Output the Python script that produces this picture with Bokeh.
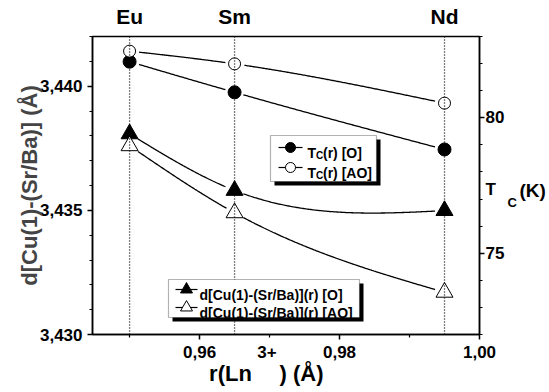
import numpy as np
from bokeh.plotting import figure
from bokeh.models import (Range1d, LinearAxis, FixedTicker, CustomJSTickFormatter,
                          Span, Label, BoxAnnotation)
from bokeh.embed import file_html
from bokeh.resources import INLINE

# ---------------- data ----------------
ions = ["Eu", "Sm", "Nd"]
r_ln = [0.950, 0.965, 0.995]                 # r(Ln3+) (Å)
tc_O = [82.07, 80.94, 78.83]                 # Tc(r) [O]  (K)
tc_AO = [82.46, 81.99, 80.54]                # Tc(r) [AO] (K)
d_O = [3.43808, 3.43580, 3.43499]            # d[Cu(1)-(Sr/Ba)](r) [O]  (Å)
d_AO = [3.43760, 3.43490, 3.43170]           # d[Cu(1)-(Sr/Ba)](r) [AO] (Å)

x_major = [0.96, 0.98, 1.00]
x_minor = [0.95, 0.97, 0.99]
yl_major = [3.430, 3.435, 3.440]
yl_minor = [3.430, 3.431, 3.432, 3.433, 3.434, 3.435, 3.436, 3.437, 3.438, 3.439, 3.440, 3.441, 3.442]
yr_major = [75, 80]
yr_minor = [72, 73, 74, 75, 76, 77, 78, 79, 80, 81, 82, 83]

FONT = "Liberation Sans"
W, H = 549, 392
FL, FR, FT, FB = 92, 479, 36, 334        # frame edges in canvas px
XR = (0.9447, 1.0)
YL = (3.430, 3.442)
YR = (72.0, 83.0)

p = figure(width=W, height=H, output_backend="svg", toolbar_location=None,
           x_range=Range1d(*XR), y_range=Range1d(*YL),
           min_border_left=FL, min_border_right=W - FR,
           min_border_top=FT, min_border_bottom=H - FB,
           x_axis_location=None, y_axis_location=None)
p.extra_y_ranges = {"tc": Range1d(*YR)}
p.grid.visible = False
p.outline_line_color = "black"
p.outline_line_width = 1.5
p.background_fill_color = "white"
p.border_fill_color = "white"


# ---------------- helpers: canvas pixels -> data / frame units ----------------
def dx(cx):
    return XR[0] + (cx - FL) / (FR - FL) * (XR[1] - XR[0])


def dy(cy, rng):
    return rng[0] + (FB - cy) / (FB - FT) * (rng[1] - rng[0])


def fx(cx):
    return cx - FL


def fy(cy):
    return FB - cy


def style_axis(ax, fs="17px"):
    ax.axis_line_color = "black"
    ax.axis_line_width = 1.5
    ax.major_tick_line_color = "black"
    ax.minor_tick_line_color = "black"
    ax.major_tick_line_width = 1.5
    ax.minor_tick_line_width = 1.2
    ax.major_tick_in = 0
    ax.major_tick_out = 5
    ax.minor_tick_in = 0
    ax.minor_tick_out = 3
    ax.major_label_text_font = FONT
    ax.major_label_text_font_style = "bold"
    ax.major_label_text_font_size = fs
    ax.major_label_text_color = "black"


def text_axis(ax, fs, standoff):
    """axis used only to carry text (no line, no ticks)"""
    style_axis(ax, fs)
    ax.axis_line_color = None
    ax.major_tick_line_color = None
    ax.minor_tick_line_color = None
    ax.major_tick_out = 0
    ax.minor_tick_out = 0
    ax.major_label_standoff = standoff


def tick_axis(ax):
    """axis carrying only the tick marks"""
    style_axis(ax, "1px")
    ax.major_label_standoff = 0


blank = CustomJSTickFormatter(code="return '';")

# ---- bottom: ticks, then tick labels (+ superscript), then title ----
x_sup = dx(266.5)                 # position of the "3+" superscript
x_t1, x_t2 = dx(230), dx(301)     # positions of "r(Ln" and ") (Å)"

xb0 = LinearAxis(ticker=FixedTicker(ticks=x_major, minor_ticks=x_minor), formatter=blank)
tick_axis(xb0)
p.add_layout(xb0, "below")

xb1 = LinearAxis(ticker=FixedTicker(ticks=x_major + [x_sup], minor_ticks=[]),
                 formatter=CustomJSTickFormatter(code="return tick.toFixed(2).replace('.', ',');"),
                 major_label_overrides={x_sup: "3+"})
text_axis(xb1, "17px", 6)
p.add_layout(xb1, "below")

xb2 = LinearAxis(ticker=FixedTicker(ticks=[x_t1, x_t2], minor_ticks=[]),
                 major_label_overrides={x_t1: "r(Ln", x_t2: ") (Å)"})
text_axis(xb2, "22px", 0)
p.add_layout(xb2, "below")

# ---- left axis ----
yl = LinearAxis(ticker=FixedTicker(ticks=yl_major, minor_ticks=yl_minor),
                formatter=CustomJSTickFormatter(code="return tick.toFixed(3).replace('.', ',');"),
                axis_label="d[Cu(1)-(Sr/Ba)] (Å)")
style_axis(yl)
yl.major_label_standoff = 5
yl.axis_label_text_font = FONT
yl.axis_label_text_font_style = "bold"
yl.axis_label_text_font_size = "22px"
yl.axis_label_standoff = -5
p.add_layout(yl, "left")

# ---- right: ticks, then labels (+ "T"), then subscript "C", then "(K)" ----
y_T = dy(189, YR)
y_C = dy(201.5, YR)
y_K = dy(190, YR)

yr0 = LinearAxis(y_range_name="tc", ticker=FixedTicker(ticks=yr_major, minor_ticks=yr_minor), formatter=blank)
tick_axis(yr0)
p.add_layout(yr0, "right")

yr1 = LinearAxis(y_range_name="tc", ticker=FixedTicker(ticks=yr_major + [y_T], minor_ticks=[]),
                 formatter=CustomJSTickFormatter(code="return tick.toFixed(0);"),
                 major_label_overrides={y_T: "T"})
text_axis(yr1, "17px", 1)
p.add_layout(yr1, "right")

yr2 = LinearAxis(y_range_name="tc", ticker=FixedTicker(ticks=[y_C], minor_ticks=[]),
                 major_label_overrides={y_C: "C"})
text_axis(yr2, "13px", 0)
p.add_layout(yr2, "right")

yr3 = LinearAxis(y_range_name="tc", ticker=FixedTicker(ticks=[y_K], minor_ticks=[]),
                 major_label_overrides={y_K: "(K)"})
text_axis(yr3, "19px", 0)
p.add_layout(yr3, "right")

# ---- top: ion names ----
xt = LinearAxis(ticker=FixedTicker(ticks=r_ln, minor_ticks=[]),
                major_label_overrides={v: n for v, n in zip(r_ln, ions)})
text_axis(xt, "21px", 9)
p.add_layout(xt, "above")

# vertical dotted guides at each ion
for xv in r_ln:
    p.add_layout(Span(location=xv, dimension="height", line_color="black",
                      line_dash="1 2", line_width=1.3))


# ------------- smooth connecting curves (natural cubic spline) -------------
def spline(xs, ys, n=300):
    xs = np.asarray(xs, float); ys = np.asarray(ys, float)
    k = len(xs); h = np.diff(xs)
    A = np.zeros((k, k)); b = np.zeros(k)
    A[0, 0] = A[-1, -1] = 1
    for i in range(1, k - 1):
        A[i, i - 1] = h[i - 1]; A[i, i] = 2 * (h[i - 1] + h[i]); A[i, i + 1] = h[i]
        b[i] = 6 * ((ys[i + 1] - ys[i]) / h[i] - (ys[i] - ys[i - 1]) / h[i - 1])
    M = np.linalg.solve(A, b)
    xx = np.linspace(xs[0], xs[-1], n); yy = np.empty_like(xx)
    for j, x in enumerate(xx):
        i = min(np.searchsorted(xs, x, side="right") - 1, k - 2)
        t0 = xs[i + 1] - x; t1 = x - xs[i]
        yy[j] = (M[i] * t0 ** 3 + M[i + 1] * t1 ** 3) / (6 * h[i]) + \
                (ys[i] / h[i] - M[i] * h[i] / 6) * t0 + (ys[i + 1] / h[i] - M[i + 1] * h[i] / 6) * t1
    return xx, yy


def px(x):
    return FL + (np.asarray(x) - XR[0]) / (XR[1] - XR[0]) * (FR - FL)


def py(y, rng):
    return FB - (np.asarray(y) - rng[0]) / (rng[1] - rng[0]) * (FB - FT)


def gapped(xs, ys, rng, gap=9.0):
    xx, yy = spline(xs, ys)
    sx, sy = px(xx), py(yy, rng)
    mx, my = px(xs), py(ys, rng)
    for a, b in zip(mx, my):
        m = np.hypot(sx - a, sy - b) < gap
        yy[m] = np.nan
    return xx, yy


for ys, rngname, rng in [(tc_O, "tc", YR), (tc_AO, "tc", YR), (d_O, "default", YL), (d_AO, "default", YL)]:
    xx, yy = gapped(r_ln, ys, rng)
    p.line(xx, yy, line_color="black", line_width=1.3, y_range_name=rngname)

p.scatter(r_ln, tc_O, marker="circle", size=13, fill_color="black", line_color="black", y_range_name="tc")
p.scatter(r_ln, tc_AO, marker="circle", size=12, fill_color="white", line_color="black", line_width=1, y_range_name="tc")
p.scatter(r_ln, d_O, marker="triangle", size=17, fill_color="black", line_color="black")
p.scatter(r_ln, d_AO, marker="triangle", size=17, fill_color="white", line_color="black", line_width=1)


# ---------------- legends (drawn by hand, for the subscripts) ----------------
def text(cx, cy, s, size):
    p.add_layout(Label(x=fx(cx), y=fy(cy), x_units="screen", y_units="screen", text=s,
                       text_font=FONT, text_font_style="bold", text_font_size=size,
                       text_color="black", text_baseline="alphabetic", text_align="left",
                       level="overlay"))


def box(l, t, r, b, shadow=4):
    p.add_layout(BoxAnnotation(left=fx(l + shadow), right=fx(r + shadow), top=fy(t + shadow), bottom=fy(b + shadow),
                               left_units="screen", right_units="screen", top_units="screen", bottom_units="screen",
                               fill_color="black", fill_alpha=1.0, line_color=None, level="annotation"))
    p.add_layout(BoxAnnotation(left=fx(l), right=fx(r), top=fy(t), bottom=fy(b),
                               left_units="screen", right_units="screen", top_units="screen", bottom_units="screen",
                               fill_color="white", fill_alpha=1.0, line_color="black", line_width=1.2,
                               level="annotation"))


def sample(cy, x0, x1, xm, marker, fill, size, rng, rname):
    p.line([dx(x0), dx(x1)], [dy(cy, rng), dy(cy, rng)], line_color="black", line_width=1.2,
           y_range_name=rname, level="overlay")
    p.scatter([dx(xm)], [dy(cy, rng)], marker=marker, size=size, fill_color=fill, line_color="black",
              y_range_name=rname, level="overlay")


# Tc legend
box(270, 135, 376, 181)
sample(147, 278, 302, 290, "circle", "black", 10, YR, "tc")
sample(167, 278, 302, 290, "circle", "white", 10, YR, "tc")
for cy, tag in [(147, "[O]"), (167, "[AO]")]:
    text(307, cy + 5, "T", "14px")
    text(315.5, cy + 8, "C", "10px")
    text(322.5, cy + 5, "(r) " + tag, "14px")

# d legend
box(168, 279, 359, 317)
sample(289, 175, 197, 186, "triangle", "black", 12, YL, "default")
sample(307, 175, 197, 186, "triangle", "white", 12, YL, "default")
text(199, 294, "d[Cu(1)-(Sr/Ba)](r) [O]", "14px")
text(199, 312, "d[Cu(1)-(Sr/Ba)](r) [AO]", "14px")

open("out.html", "w").write(file_html(p, INLINE))
